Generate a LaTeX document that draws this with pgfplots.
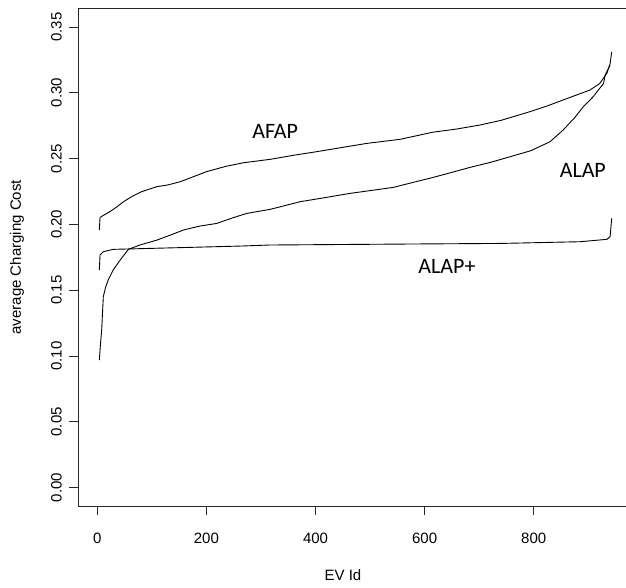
\documentclass[border=0pt]{standalone}
\usepackage{fontspec}
\setmainfont{Liberation Sans}
\newfontfamily\carlito{Carlito}
\usepackage{pgfplots}
\pgfplotsset{compat=1.18}
\begin{document}
\begin{tikzpicture}
\begin{axis}[
  at={(78pt,82pt)}, anchor=south west,
  scale only axis,
  width=552pt, height=497.5pt,
  xmin=-35.4, xmax=976.5,
  ymin=-0.014, ymax=0.364,
  xtick={0,200,400,600,800},
  ytick={0,0.05,0.10,0.15,0.20,0.25,0.30,0.35},
  /pgf/number format/assume math mode=true,
  yticklabel style={/pgf/number format/fixed, /pgf/number format/fixed zerofill, /pgf/number format/precision=2, rotate=90, anchor=south, inner sep=0pt},
  xticklabel style={anchor=north, inner sep=0pt},
  xticklabel shift=17.7pt,
  yticklabel shift=7pt,
  tick label style={font=\fontsize{15}{18}\selectfont},
  tick align=outside,
  major tick length=9pt,
  tick style={black!85, line width=0.8pt},
  xtick pos=bottom, ytick pos=left,
  axis line style={black!85, line width=0.9pt},
  every axis x label/.style={at={(axis description cs:0.48,-0.1397)}, anchor=center, font=\fontsize{15}{18}\selectfont},
  every axis y label/.style={at={(axis description cs:-0.1105,0.5)}, rotate=90, anchor=center, font=\fontsize{15}{18}\selectfont},
  xlabel={EV Id},
  ylabel={average Charging Cost},
  clip=false,
]
% AFAP
\addplot[black, line width=0.9pt] coordinates {
(3.7,0.1957) (5,0.2053) (14,0.2075) (23,0.2096) (35,0.2130) (48,0.2172) (65,0.2215) (81,0.2248) (109,0.2286) (130,0.2300) (152,0.2324) (175,0.2360) (200,0.2400) (235,0.2440) (268,0.2468) (317,0.2494) (360,0.2525) (402,0.2552) (450,0.2585) (494,0.2615) (555,0.2646) (615,0.2700) (660,0.2725) (702,0.2755) (740,0.2790) (793,0.2856) (825,0.2900) (854,0.2945) (880,0.2985) (903,0.3020) (921,0.3070) (934,0.3147) (940,0.3220) (943,0.3310)
};
% ALAP
\addplot[black, line width=0.9pt] coordinates {
(3.7,0.0969) (6,0.1100) (8,0.1197) (11,0.1450) (15,0.1520) (20,0.1577) (29,0.1653) (42,0.1729) (57,0.1810) (78,0.1843) (109,0.1880) (135,0.1920) (158,0.1957) (188,0.1987) (219,0.2007) (245,0.2045) (274,0.2083) (317,0.2114) (372,0.2172) (420,0.2205) (463,0.2235) (543,0.2281) (580,0.2320) (616,0.2357) (650,0.2395) (688,0.2438) (720,0.2470) (757,0.2514) (795,0.2560) (830,0.2628) (854,0.2717) (875,0.2810) (891,0.2894) (909,0.2970) (928,0.3070) (931,0.3135) (940,0.3210)
};
% ALAP+
\addplot[black, line width=0.9pt] coordinates {
(3.7,0.1653) (5,0.1767) (11,0.1792) (29,0.1810) (170,0.1825) (262,0.1835) (317,0.1843) (555,0.1850) (740,0.1855) (885,0.1868) (934,0.1886) (940,0.1906) (943,0.2046)
};
\node[font=\carlito\fontsize{22}{26}\selectfont] at (axis cs:326,0.2708) {AFAP};
\node[font=\carlito\fontsize{22}{26}\selectfont] at (axis cs:890,0.2409) {ALAP};
\node[font=\carlito\fontsize{22}{26}\selectfont] at (axis cs:641,0.1680) {ALAP+};
\end{axis}
\pgfresetboundingbox
\useasboundingbox (0,0) rectangle (626pt,588pt);
\end{tikzpicture}
\end{document}
